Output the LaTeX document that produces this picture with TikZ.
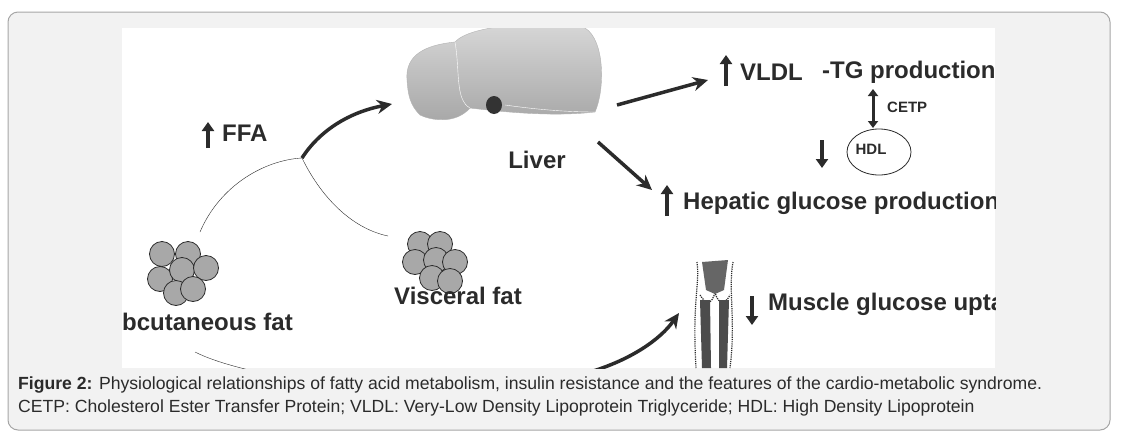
\documentclass[tikz,border=0pt]{standalone}
\usepackage{fontspec}
\setmainfont{Liberation Sans}
\usetikzlibrary{arrows.meta,shapes.geometric}
\definecolor{framegray}{HTML}{F2F2F2}
\definecolor{ink}{HTML}{2B2B2B}
\definecolor{cellgray}{HTML}{A8A8A8}
\tikzset{
  lbl/.style = {font=\fontsize{24}{26}\selectfont\bfseries, text=ink, inner sep=0pt, anchor=west},
  small/.style = {font=\fontsize{15}{17}\selectfont\bfseries, text=ink, inner sep=0pt},
  updown/.style = {line width=4pt, ink, -{Triangle[length=9pt,width=12pt]}},
  flow/.style = {line width=3.5pt, ink, -{Stealth[length=15pt,width=14pt]}},
  cell/.style = {circle, draw=ink, fill=cellgray, minimum size=25pt, inner sep=0pt, thick},
}
\begin{document}
\begin{tikzpicture}[x=1pt,y=-1pt]
\useasboundingbox (0,0) rectangle (1122,437);
\draw[rounded corners=10pt, draw=gray!70, fill=framegray, line width=1pt] (8,12) rectangle (1110,430);
\fill[white] (122,28) rectangle (995,368);
\begin{scope}
\clip (122,28) rectangle (995,368);
% liver
\shade[top color=gray!30, bottom color=gray!70, draw=gray!60]
  (407,80) .. controls (405,55) and (425,45) .. (455,42)
  .. controls (470,25) and (540,20) .. (585,28)
  .. controls (605,40) and (605,90) .. (595,112)
  .. controls (560,116) and (520,114) .. (470,108)
  .. controls (455,125) and (430,120) .. (420,115)
  .. controls (410,105) and (408,95) .. (407,80) -- cycle;
\draw[white, thin] (455,42) .. controls (460,70) and (455,100) .. (470,108);
\draw[white, thin] (505,105) .. controls (540,110) and (570,112) .. (595,112);
\fill[gray!40!black] (494,105) ellipse (8pt and 9pt);
\node[lbl, anchor=center] (liverlbl) at (537,160) {Liver};
% FFA
\draw[updown] (208,148) -- (208,122);
\node[lbl] (ffa) at (222,133) {FFA};
% fat depots
\foreach \x/\y in {162/254,188/254,160/279,182/270,206/268,176/293,193/289}
  \node[cell] at (\x,\y) {};
\foreach \x/\y in {420/244,440/244,415/262,436/260,455/262,432/278,450/281}
  \node[cell] at (\x,\y) {};
\node[lbl, anchor=east] (subq) at (293,322) {Subcutaneous fat};
\node[lbl, anchor=center] (visc) at (458,296) {Visceral fat};
% FFA flux
\coordinate (split) at (302,158);
\coordinate (subtop) at (200,232);
\coordinate (visctop) at (388,236);
\draw[thin, ink] (subtop) .. controls (220,185) and (265,160) .. (split);
\draw[thin, ink] (split) .. controls (320,195) and (350,228) .. (visctop);
\draw[flow] (split) .. controls (320,130) and (350,112) .. (392,104);
% liver outputs
\coordinate (vA) at (617,105);
\coordinate (vB) at (708,80);
\draw[flow] (vA) -- (vB);
\draw[updown] (726,86) -- (726,55);
\node[lbl] (vldl) at (740,72) {VLDL};
\node[lbl] (tg) at (822,72) {-TG production};
\draw[line width=3pt, ink, {Triangle[length=7pt,width=10pt]}-{Triangle[length=7pt,width=10pt]}] (873,89) -- (873,128);
\node[small, anchor=west] (cetp) at (887,107) {CETP};
\node[ellipse, draw=ink, thick, minimum width=64pt, minimum height=46pt] (hdl) at (879,152) {};
\node[small] at (871,149) {HDL};
\draw[updown] (822,140) -- (822,168);
\coordinate (hA) at (598,142);
\coordinate (hB) at (652,190);
\draw[flow] (hA) -- (hB);
\draw[updown] (667,216) -- (667,185);
\node[lbl] (hgp) at (683,203) {Hepatic glucose production};
% muscle
\begin{scope}[ink, line width=1.2pt, densely dotted]
\draw (697,262) .. controls (700,285) and (692,300) .. (696,368);
\draw (733,262) .. controls (728,290) and (736,320) .. (730,368);
\draw (700,295) .. controls (706,305) and (712,305) .. (715,292) .. controls (718,305) and (725,305) .. (730,295);
\end{scope}
\fill[gray!80!black] (702,262) -- (728,260) -- (724,290) -- (715,294) -- (706,290) -- cycle;
\fill[gray!60!black] (700,300) -- (710,300) -- (711,368) -- (702,368) -- cycle;
\fill[gray!60!black] (719,300) -- (729,300) -- (727,368) -- (719,368) -- cycle;
\draw[updown] (752,296) -- (752,325);
\node[lbl] (musc) at (768,304) {Muscle glucose uptake};
% bottom flux
\draw[thin, ink] (195,352) .. controls (215,362) and (240,368) .. (270,375);
\draw[flow] (590,372) .. controls (630,360) and (660,340) .. (679,313);
\end{scope}
% caption
\node[anchor=north west, align=left, inner sep=0pt, font=\fontsize{17.6}{23}\selectfont, text=ink] (cap) at (18,377)
  {\textbf{Figure 2:} Physiological relationships of fatty acid metabolism, insulin resistance and the features of the cardio-metabolic syndrome.\\
   CETP: Cholesterol Ester Transfer Protein; VLDL: Very-Low Density Lipoprotein Triglyceride; HDL: High Density Lipoprotein};
\end{tikzpicture}
\end{document}
